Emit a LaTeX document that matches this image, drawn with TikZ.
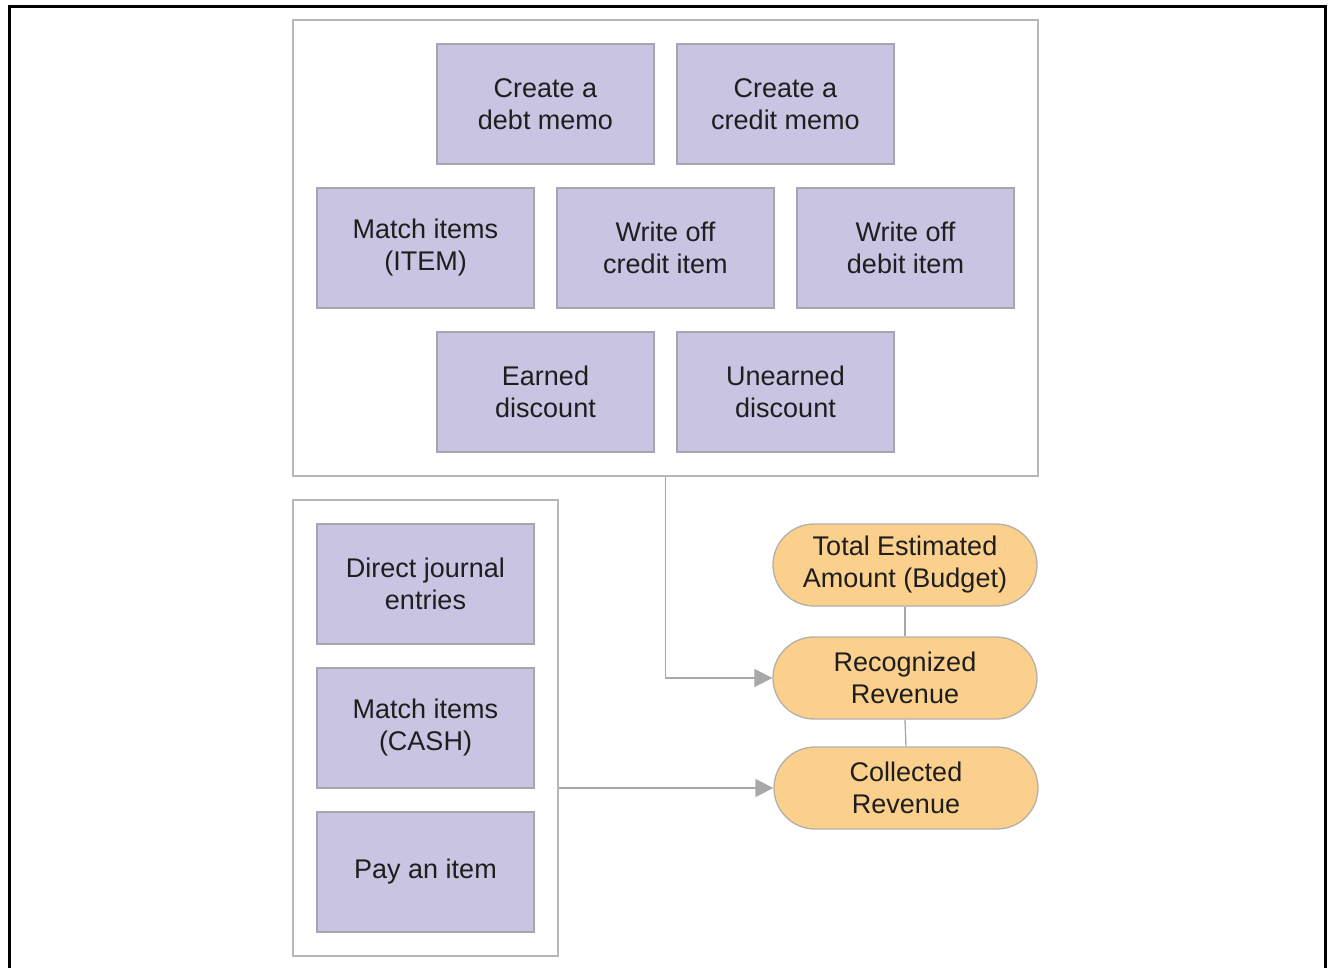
\documentclass[tikz,border=0pt]{standalone}
\usepackage{fontspec}
\setmainfont{Liberation Sans}
\usetikzlibrary{arrows.meta,shapes.misc}
\definecolor{boxfill}{HTML}{C8C4E2}
\definecolor{boxline}{HTML}{A6A6B0}
\definecolor{pillfill}{HTML}{FBD08C}
\definecolor{pillline}{HTML}{B4B0A8}
\definecolor{contline}{HTML}{B8B8B8}
\definecolor{conn}{HTML}{A8A8A8}
\definecolor{txt}{HTML}{1E1E1E}
\tikzset{
  task/.style={draw=boxline, line width=1.3pt, fill=boxfill, minimum width=217pt, minimum height=120pt,
    inner sep=0pt, align=center, text=txt, font=\fontsize{27}{32}\selectfont},
  pill/.style={draw=pillline, line width=1.3pt, fill=pillfill, rounded rectangle, minimum width=264pt,
    minimum height=82pt, inner sep=0pt, align=center, text=txt, font=\fontsize{27}{32}\selectfont},
  container/.style={draw=contline, line width=1.3pt, inner sep=0pt},
  link/.style={draw=conn, line width=1.3pt},
  arrowlink/.style={link, -{Triangle[length=18pt,width=18pt,fill=conn]}}
}
\begin{document}
\begin{tikzpicture}[x=1pt,y=-1pt]
\useasboundingbox (0,0) rectangle (1328,968);
\draw[line width=3pt] (9,975) -- (9,7) -- (1325,7) -- (1325,975);
% containers
\node[container, minimum width=745pt, minimum height=456pt] (top) at (665.5,248) {};
\node[container, minimum width=265pt, minimum height=456pt] (bot) at (425.5,728) {};
% top tasks
\node[task] (debt) at (545.5,104) {Create a\\debt memo};
\node[task] (credit) at (785.5,104) {Create a\\credit memo};
\node[task] (matchitem) at (425.5,248) {Match items\\(ITEM)};
\node[task] (woc) at (665.5,248) {Write off\\credit item};
\node[task] (wod) at (905.5,248) {Write off\\debit item};
\node[task] (earned) at (545.5,392) {Earned\\discount};
\node[task] (unearned) at (785.5,392) {Unearned\\discount};
% bottom tasks
\node[task] (dje) at (425.5,584) {Direct journal\\entries};
\node[task] (matchcash) at (425.5,728) {Match items\\(CASH)};
\node[task] (pay) at (425.5,872) {Pay an item};
% pills
\node[pill] (total) at (905,565) {Total Estimated\\Amount (Budget)};
\node[pill] (recog) at (905,678) {Recognized\\Revenue};
\node[pill] (coll) at (906,788) {Collected\\Revenue};
% connectors
\draw[link] (total.south) -- (recog.north);
\draw[link] (recog.south) -- (coll.north);
\draw[arrowlink] (top.south) |- (recog.west);
\draw[arrowlink] (bot.east |- coll.west) -- (coll.west);
\end{tikzpicture}
\end{document}
